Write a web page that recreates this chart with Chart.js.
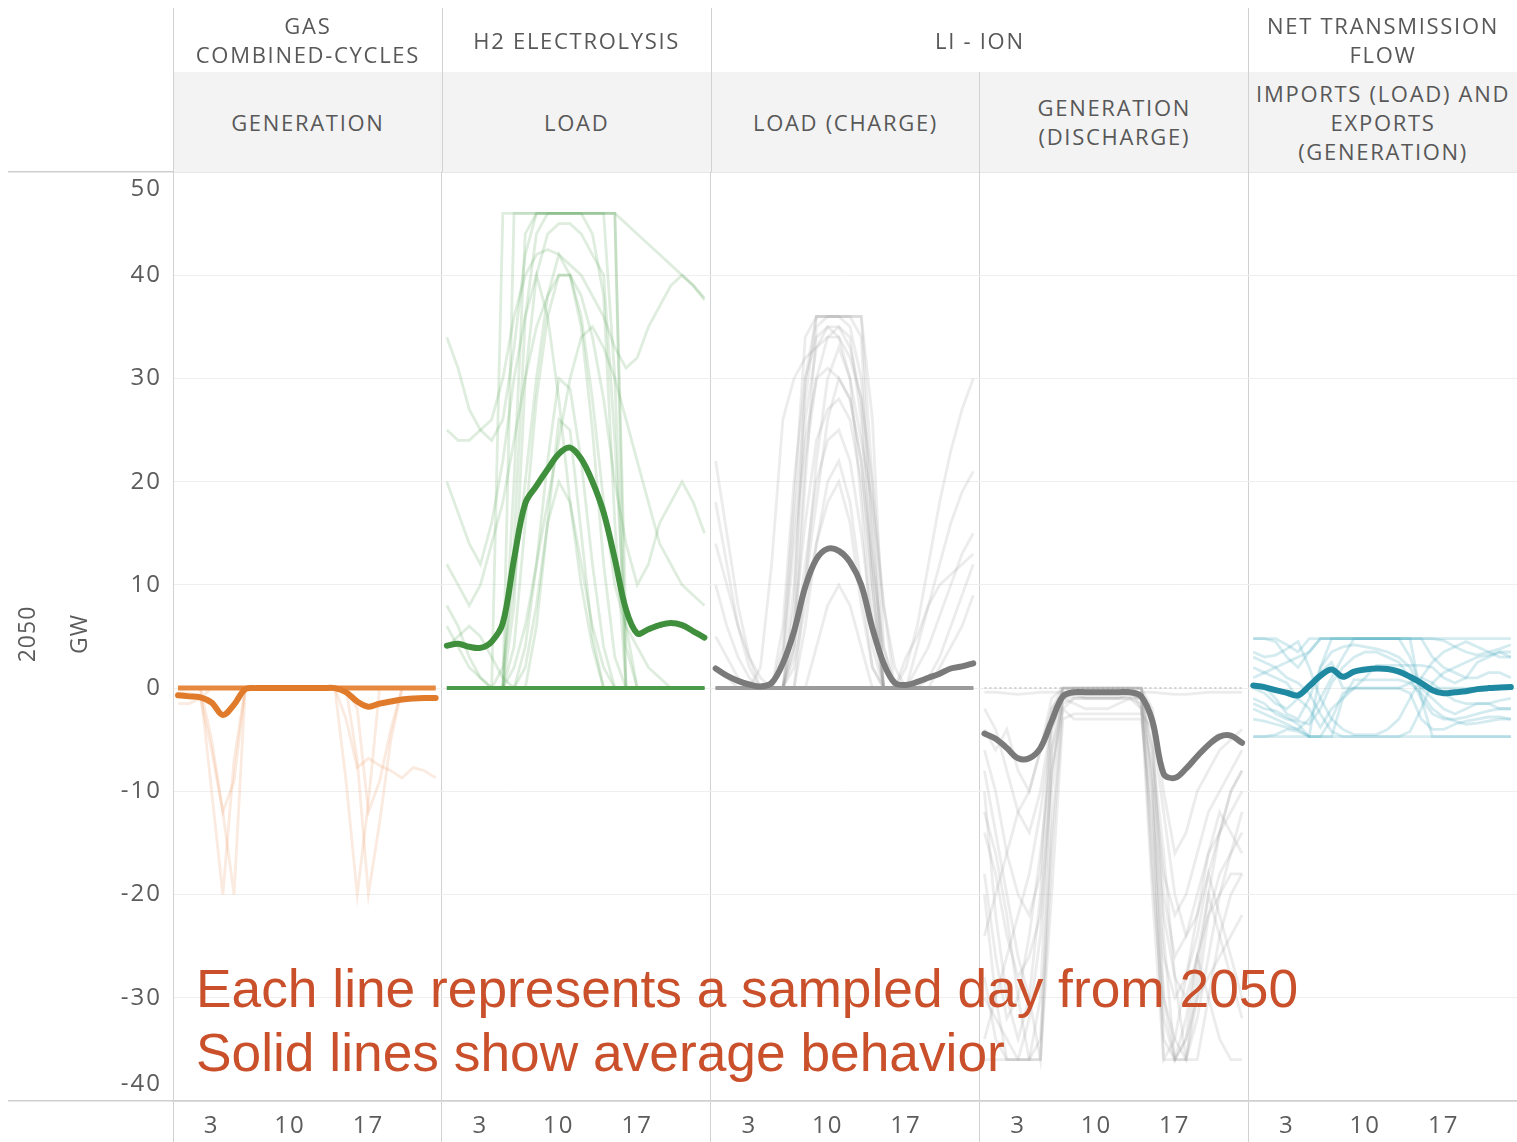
<!DOCTYPE html>
<html>
<head>
<meta charset="utf-8">
<title>2050 sampled-day dispatch profiles</title>
<script src="https://cdn.jsdelivr.net/npm/chart.js@4.4.1/dist/chart.umd.min.js"></script>
<style>
  html, body { margin: 0; padding: 0; background: #ffffff; }
  #wrap { position: relative; width: 1517px; height: 1142px; overflow: hidden; }
  #chart { position: absolute; left: 0; top: 0; }
  .hcell {
    position: absolute; box-sizing: border-box;
    display: flex; align-items: center; justify-content: center;
    text-align: center; white-space: pre; overflow: visible;
    font-family: "Open Sans", sans-serif; font-size: 22px; letter-spacing: 1.7px;
    line-height: 29px; color: #585858;
    border-left: 1px solid #d2d2d2;
  }
  .hcell.measure { background: #f3f3f3; }
  .note {
    position: absolute; left: 196px; top: 957px;
    font-family: "Liberation Sans", Arial, sans-serif; font-size: 53.3px;
    line-height: 64px; color: #c9502a; white-space: nowrap;
  }
</style>
</head>
<body>
<div id="wrap">
  <canvas id="chart" width="1517" height="1142"></canvas>
  <div id="header"></div>
  <div class="note">Each line represents a sampled day from 2050<br>Solid lines show average behavior</div>
</div>
<script>
// ---- hours of the day and axis ticks ----
const HOURS = [0,1,2,3,4,5,6,7,8,9,10,11,12,13,14,15,16,17,18,19,20,21,22,23];
const TICK_HOURS = [3, 10, 17];
const Y_TICKS = [-40, -30, -20, -10, 0, 10, 20, 30, 40, 50];

// ---- header labels ----
const GROUP_LABELS = [['GAS', 'COMBINED-CYCLES'], ['H2 ELECTROLYSIS'], ['LI - ION'], ['NET TRANSMISSION', 'FLOW']];
const GROUP_SPANS = [1, 1, 2, 1];
const MEASURE_LABELS = [['GENERATION'], ['LOAD'], ['LOAD (CHARGE)'], ['GENERATION', '(DISCHARGE)'], ['IMPORTS (LOAD) AND', 'EXPORTS', '(GENERATION)']];

// ---- gas combined-cycles generation (GW) ----
const gasAvg = [-0.7,-0.8,-0.9,-1.4,-2.6,-1.6,-0.1,0,0,0,0,0,0,0,0,-0.4,-1.3,-1.8,-1.5,-1.3,-1.1,-1.0,-0.95,-0.95];
const gasIdle = [0,0,0,0,0,0,0,0,0,0,0,0,0,0,0,0,0,0,0,0,0,0,0,0];
const gasDays = [
  [0,0,0,-10,-20,-7,0,0,0,0,0,0,0,0,0,0,0,0,0,0,0,0,0,0],
  [0,0,0,-5,-12,-20,0,0,0,0,0,0,0,0,0,0,0,0,0,0,0,0,0,0],
  [-0.5,-0.5,-1,-6,-12,-9,0,0,0,0,0,0,0,0,0,0,0,0,0,0,0,0,0,0],
  [0,0,0,0,0,0,0,0,0,0,0,0,0,0,0,-9,-20,-11,0,0,0,0,0,0],
  [0,0,0,0,0,0,0,0,0,0,0,0,0,0,0,0,-7,-20,-13,-5,0,0,0,0],
  [-1.5,-1.5,-1,0,0,0,0,0,0,0,0,0,0,0,0,-3,-7.7,-6.8,-7.5,-8,-8.7,-7.7,-8,-8.7],
  [0,0,0,0,0,0,0,0,0,0,0,0,0,0,0,0,-2,-12,-9,-4,0,0,0,0]
];

// ---- H2 electrolysis load (GW) ----
const h2Avg = [4.1,4.3,4.0,3.9,4.5,6.3,12.5,17.9,19.6,21.2,22.7,23.3,22.2,20.0,17.0,12.5,7.6,5.3,5.7,6.1,6.3,6.1,5.5,4.9];
const h2Idle = [0,0,0,0,0,0,0,0,0,0,0,0,0,0,0,0,0,0,0,0,0,0,0,0];
const h2Days = [
  [0,0,0,0,0,0,46,46,46,46,46,46,46,46,46,46,0,0,0,0,0,0,0,0],
  [0,0,0,0,0,46,46,46,46,46,46,46,46,46,46,46,6,0,0,0,0,0,0,0],
  [0,0,0,0,0,0,20,44,46,46,46,46,46,46,46,30,0,0,0,0,0,0,0,0],
  [0,0,0,0,0,0,8,30,40,44,45,45,44,42,40,24,4,0,0,0,0,0,0,0],
  [34,31,27,25,24,26,33,42,46,46,46,46,46,46,46,46,45,44,43,42,41,40,39,37.6],
  [25,24,24,25,26,30,36,40,42,42.5,42,41,40,38,36,33,31,32,35,37,39,40,39,37.8],
  [0,0,0,0,0,0,0,4,12,22,30,29,22,12,4,0,0,0,0,0,0,0,0,0],
  [0,0,0,0,0,2,10,20,30,38,42,40,35,25,12,3,0,0,0,0,0,0,0,0],
  [8,6,3,1,0,0,2,6,12,18,24,30,34,35,33,30,26,22,18,14,12,10,9,8],
  [20,17,14,12,16,22,30,36,40,36,28,18,10,4,0,0,0,0,0,0,0,0,0,0],
  [12,10,8,10,14,18,24,30,35,38,40,40,38,34,28,20,14,10,12,16,18,20,18,15],
  [4,5,6,5,3,1,0,2,8,16,20,18,12,6,2,0,0,0,0,0,0,0,0,0],
  [0,0,0,0,0,0,0,0,6,16,26,25,15,5,0,0,0,0,0,0,0,0,0,0],
  [0,0,0,0,0,0,14,36,44,46,46,46,46,44,38,16,0,0,0,0,0,0,0,0],
  [6,4,2,1,0,0,4,16,28,36,40,40,36,28,18,10,6,4,2,1,0,0,0,0]
];

// ---- Li-ion load while charging (GW) ----
const chargeAvg = [1.9,1.2,0.7,0.35,0.15,0.5,2.4,5.5,9.8,12.5,13.5,13.3,12.2,10.0,5.8,2.4,0.5,0.3,0.6,1.0,1.4,1.9,2.1,2.4];
const chargeIdle = [0,0,0,0,0,0,0,0,0,0,0,0,0,0,0,0,0,0,0,0,0,0,0,0];
const chargeDays = [
  [0,0,0,0,0,0,0,8,30,36,36,36,36,36,20,0,0,0,0,0,0,0,0,0],
  [0,0,0,0,0,0,4,18,34,36,36,36,36,34,14,2,0,0,0,0,0,0,0,0],
  [0,0,0,0,0,0,0,10,26,33,35,35,33,28,12,0,0,0,0,0,0,0,0,0],
  [0,0,0,0,0,0,2,14,24,30,31,30,28,22,10,0,0,0,0,0,0,0,0,0],
  [22,15,8,3,0,0,0,6,16,24,27,28,26,20,8,0,0,0,4,8,12,16,19,21],
  [10,6,3,1,0,0,0,4,12,20,24,25,22,15,6,0,0,2,6,12,18,23,27,30],
  [5,3,1,0,0,0,0,0,6,14,20,22,18,10,2,0,0,0,2,4,7,10,13,15],
  [18,12,6,2,0,0,0,0,0,4,8,10,8,4,0,0,0,0,0,0,2,4,6,9],
  [0,0,0,0,0,0,6,20,30,34,35,34,30,24,18,8,2,0,0,0,0,0,0,0],
  [0,0,0,0,2,12,26,30,32,33,34,34,32,28,20,8,0,0,0,0,0,0,0,0],
  [0,0,0,0,0,0,0,4,20,35,36,36,35,30,16,0,0,0,0,0,0,0,0,0],
  [0,0,0,0,0,0,0,0,10,22,30,33,30,18,4,0,0,0,0,0,0,0,0,0],
  [2,1,0,0,0,0,0,2,8,14,18,20,16,8,2,0,0,3,5,8,10,11,12,13],
  [0,0,0,0,0,0,0,6,22,30,34,35,34,26,10,0,0,0,0,0,0,0,0,0],
  [14,10,6,3,1,0,0,3,10,18,26,30,28,22,12,4,0,0,0,1,3,6,9,12],
  [0,0,0,0,0,0,3,16,28,36,36,36,36,36,26,4,0,0,0,0,0,0,0,0]
];

// ---- Li-ion generation while discharging (GW) ----
const dischargeAvg = [-4.4,-4.9,-5.8,-6.8,-6.8,-5.8,-3.2,-0.8,-0.4,-0.4,-0.4,-0.4,-0.4,-0.4,-0.8,-3.2,-8.3,-8.7,-7.8,-6.6,-5.5,-4.7,-4.6,-5.3];
const dischargeIdle = [0,0,0,0,0,0,0,0,0,0,0,0,0,0,0,0,0,0,0,0,0,0,0,0];
const dischargeDays = [
  [-20,-30,-36,-36,-36,-36,-10,0,0,0,0,0,0,0,0,-8,-30,-36,-36,-28,-20,-14,-10,-8],
  [-10,-22,-30,-34,-30,-20,-4,0,0,0,0,0,0,0,-2,-14,-30,-34,-36,-30,-22,-18,-16,-12],
  [-6,-10,-16,-20,-22,-18,-2,0,0,0,0,0,0,0,0,-6,-20,-26,-24,-20,-16,-14,-12,-10],
  [-30,-32,-34,-36,-36,-34,-14,-1,0,0,0,0,0,0,0,-10,-36,-36,-34,-26,-20,-24,-28,-32],
  [-2,-4,-8,-12,-14,-10,-3,-1,-1.5,-2,-2,-2,-1.5,-1,-2,-8,-18,-22,-20,-16,-12,-10,-8,-6],
  [-14,-18,-24,-28,-26,-22,-8,-2,-3,-3,-3,-3,-3,-3,-3,-12,-26,-30,-28,-24,-18,-22,-26,-30],
  [-36,-36,-36,-36,-36,-30,-6,0,0,0,0,0,0,0,0,-4,-24,-36,-34,-30,-28,-26,-24,-22],
  [-4,-6,-4,-8,-10,-6,-1,0,0,0,0,0,0,0,0,-2,-10,-16,-14,-10,-8,-6,-5,-4],
  [-24,-20,-16,-12,-10,-6,-2,-0.5,-0.5,-1,-1,-1,-1,-0.5,-1,-16,-34,-36,-32,-26,-22,-20,-18,-18],
  [-8,-14,-20,-26,-30,-36,-20,-3,-2.5,-2.5,-2.5,-2.5,-2.5,-2.5,-2.5,-4,-12,-20,-24,-22,-18,-14,-10,-8],
  [-0.4,-0.4,-0.5,-0.6,-0.5,-0.4,-0.4,-0.4,-0.4,-0.4,-0.4,-0.4,-0.4,-0.4,-0.4,-0.4,-0.5,-0.6,-0.6,-0.5,-0.4,-0.4,-0.4,-0.4],
  [-18,-26,-32,-30,-24,-16,-6,-1.5,-1,-1,-1,-1,-1,-1,-1.5,-20,-36,-34,-28,-22,-16,-12,-14,-16],
  [-28,-34,-36,-36,-32,-24,-8,-1,-0.5,-0.5,-0.5,-0.5,-0.5,-0.5,-1,-18,-32,-36,-36,-32,-26,-20,-16,-14],
  [-12,-16,-22,-30,-36,-36,-16,-2,-1,-1,-1,-1,-1,-1,-1,-6,-16,-28,-36,-36,-30,-24,-20,-18],
  [-34,-30,-26,-22,-18,-12,-4,-1,-0.8,-0.8,-0.8,-0.8,-0.8,-0.8,-1,-10,-22,-28,-30,-26,-30,-34,-36,-36]
];

// ---- net transmission flow: imports (+) and exports (-) (GW) ----
const flowAvg = [0.25,0.1,-0.2,-0.45,-0.7,0.2,1.2,1.8,1.1,1.6,1.8,1.9,1.85,1.6,1.1,0.5,-0.2,-0.5,-0.4,-0.3,-0.1,0.0,0.05,0.1];
const flowDays = [
  [-4.7,-4.7,-4.7,-4.7,-4.7,-4.7,2,4.8,4.8,4.8,4.8,4.8,4.8,4.8,4.8,-1,-4.7,-4.7,-4.7,-4.7,-4.7,-4.7,-4.7,-4.7],
  [4.8,4.8,4.5,3,2,3.5,4.8,4.8,4.8,4.8,4.8,4.8,4.8,4.8,4.8,4.8,4.8,4.8,4.8,4.8,4.8,4.8,4.8,4.8],
  [-4.7,-4.7,-4.5,-4,-4.2,-4.7,-4.7,-4.7,-4.7,-4.7,-4.7,-4.7,-4.7,-4.7,-4.7,-4.7,-4.7,-4.7,-4.7,-4.7,-4.7,-4.7,-4.7,-4.7],
  [0.2,0.1,-1,-2.5,-3,-1,2,3.5,4,4.2,4,3.8,3.5,3,2,0,0,0,0,0,0,0,0,0],
  [2,1.5,1,0.5,-1,-2,-3.8,-2,-1,0,1,2.2,2.2,2.2,2.2,2.2,2,1,0.5,1,2.5,3,3.5,3],
  [-2,-2.5,-3,-3.5,-4,-3,-1,1,3,4.8,4.8,4.8,4.8,4.8,3,0,-1,-2,-2.5,-2,-1.5,-1.5,-2,-2],
  [1,1.5,2,2.5,3,3.5,4.8,4.8,4.8,4.8,4.8,4.8,4.8,4.8,4.8,4.8,3,2,1.5,1,1,1.5,1.5,1],
  [-3,-3.2,-3.5,-3.8,-4,-4.7,-4.7,-3,-0.5,0,0,0,0,0,-0.5,-3,-4,-4,-3.5,-3.2,-3,-2.8,-2.8,-3],
  [3.5,3,3.2,3.8,4.5,2,-1,-3,-4,-4.5,-4.5,-4.5,-4,-3,-1,1,2.5,3.5,4,4.5,4,3.5,3,3],
  [0,-0.5,-1.5,-2,-1,0.5,1.5,2.5,0,0,0,0,0,0,0.5,1,0.5,-0.5,-1.2,-1.5,-1.5,-1.5,-1.2,-1],
  [-1,-1.5,-2.5,-3,-3.2,-3.5,-2,0.5,2,3,3.5,3.5,3,2.5,1,-1,-2.5,-3,-3,-2.8,-2.5,-2.2,-2,-2],
  [3,2.5,2,1,0.5,-0.5,-2.5,-4.2,-4.7,-4.7,-4.7,-4.7,-4.7,-4.7,-4.2,-2,0.5,1.5,2,2.5,3,3.2,3.5,3.5],
  [4.8,4.8,4.8,4.2,3.5,4.8,4.8,4.8,4.8,4.8,4.8,4.8,4.8,4.8,4.8,4.8,4.8,4.6,4,3.5,3.2,3.5,3.8,4.2],
  [-1.5,-2,-2.2,-2.8,-3.5,-4.7,-4.7,-4.7,-1,0.8,0.8,0.8,0.8,0.8,0.5,-0.5,-2,-2.8,-3.2,-3.5,-3.4,-3.2,-3,-3]
];

// ---- layout of the panels along one shared x axis ----
const PANEL_SPAN = 24;      // x units per panel
const HOUR_SHIFT = 0.45;    // inset of hour 0 from the panel edge
const PANEL_COUNT = 5;

const panels = [
  { avg: gasAvg, days: gasDays, idle: gasIdle,
    avgColor: '#e07b2c', dayColor: 'rgba(236,150,95,0.20)', idleColor: '#e7883f', idleWidth: 5 },
  { avg: h2Avg, days: h2Days, idle: h2Idle,
    avgColor: '#3f8f3c', dayColor: 'rgba(80,160,80,0.19)', idleColor: '#4b9a48', idleWidth: 4 },
  { avg: chargeAvg, days: chargeDays, idle: chargeIdle,
    avgColor: '#7a7a7a', dayColor: 'rgba(140,140,140,0.17)', idleColor: '#9b9b9b', idleWidth: 4 },
  { avg: dischargeAvg, days: dischargeDays, idle: dischargeIdle,
    avgColor: '#7a7a7a', dayColor: 'rgba(140,140,140,0.17)', idleColor: '#c2c2c2', idleWidth: 1.5, idleDash: [2, 3] },
  { avg: flowAvg, days: flowDays, idle: null,
    avgColor: '#1f89a1', dayColor: 'rgba(60,165,185,0.22)' }
];

function toPoints(panelIndex, values) {
  return values.map((v, i) => ({ x: panelIndex * PANEL_SPAN + HOURS[i] + HOUR_SHIFT, y: v }));
}

const datasets = [];
panels.forEach((p, pi) => {
  p.days.forEach(day => datasets.push({
    data: toPoints(pi, day), borderColor: p.dayColor, borderWidth: 2.8,
    tension: 0, order: 2
  }));
  if (p.idle) datasets.push({
    data: toPoints(pi, p.idle), borderColor: p.idleColor, borderWidth: p.idleWidth,
    borderDash: p.idleDash || [], tension: 0, order: 1
  });
  datasets.push({
    data: toPoints(pi, p.avg), borderColor: p.avgColor, borderWidth: 6,
    tension: 0.35, borderCapStyle: 'round', borderJoinStyle: 'round', order: 0
  });
});

// x ticks: panel separators plus the labelled hours in each panel
const X_TICKS = [];
for (let p = 0; p <= PANEL_COUNT; p++) {
  X_TICKS.push(p * PANEL_SPAN);
  if (p < PANEL_COUNT) TICK_HOURS.forEach(h => X_TICKS.push(p * PANEL_SPAN + h + HOUR_SHIFT));
}
const isSeparator = v => Math.abs(v % PANEL_SPAN) < 1e-6;

const GRID_EDGE = '#cfcfcf';
const GRID_INNER = '#efefef';
const CLEAR = 'rgba(0,0,0,0)';

// y tick labels and the rotated axis titles
const axisText = {
  id: 'axisText',
  beforeDraw(chart) { chart.ctx.letterSpacing = '2px'; },
  afterDraw(chart) {
    const { ctx, chartArea, scales: { y } } = chart;
    ctx.save();
    ctx.letterSpacing = '2px';
    ctx.font = '24px "Open Sans"';
    ctx.fillStyle = '#5c5c5c';
    ctx.textAlign = 'right';
    ctx.textBaseline = 'middle';
    y.ticks.forEach(t => {
      let py = y.getPixelForValue(t.value);
      py = Math.min(Math.max(py, chartArea.top + 17), chartArea.bottom - 17);
      ctx.fillText(String(t.value), chartArea.left - 11, py);
    });
    ctx.font = '23px "Open Sans"';
    ctx.letterSpacing = '1px';
    ctx.textAlign = 'center';
    [['2050', 28], ['GW', 80]].forEach(([txt, x]) => {
      ctx.save();
      ctx.translate(x, 634);
      ctx.rotate(-Math.PI / 2);
      ctx.fillText(txt, 0, 0);
      ctx.restore();
    });
    ctx.restore();
  }
};

const chart = new Chart(document.getElementById('chart'), {
  type: 'line',
  data: { datasets },
  plugins: [axisText],
  options: {
    responsive: false,
    animation: false,
    events: [],
    layout: { padding: { top: 172, left: 0, right: 0, bottom: 0 } },
    elements: { point: { radius: 0 } },
    plugins: { legend: { display: false }, tooltip: { enabled: false } },
    scales: {
      x: {
        type: 'linear', min: 0, max: PANEL_COUNT * PANEL_SPAN,
        afterBuildTicks: s => { s.ticks = X_TICKS.map(v => ({ value: v })); },
        afterFit: s => { s.height = 41; },
        ticks: {
          autoSkip: false, maxRotation: 0, padding: -30,
          color: '#5c5c5c', font: { family: 'Open Sans', size: 24 },
          callback: v => isSeparator(v) ? '' : String(Math.round(v - HOUR_SHIFT) % PANEL_SPAN)
        },
        grid: {
          color: c => (isSeparator(c.tick.value) && c.tick.value > 0 && c.tick.value < PANEL_COUNT * PANEL_SPAN) ? '#d2d2d2' : CLEAR,
          tickColor: c => (isSeparator(c.tick.value) && c.tick.value < PANEL_COUNT * PANEL_SPAN) ? '#d2d2d2' : CLEAR,
          tickLength: 41, lineWidth: 1
        },
        border: { display: true, color: GRID_EDGE, width: 1.5 }
      },
      y: {
        type: 'linear', min: -40, max: 50,
        afterBuildTicks: s => { s.ticks = Y_TICKS.map(v => ({ value: v })); },
        afterFit: s => { s.width = 173; },
        ticks: { display: false },
        grid: {
          color: c => (c.tick.value === 50 || c.tick.value === -40) ? GRID_EDGE : GRID_INNER,
          lineWidth: c => (c.tick.value === 50 || c.tick.value === -40) ? 1.5 : 1,
          tickColor: c => (c.tick.value === 50 || c.tick.value === -40) ? GRID_EDGE : CLEAR,
          tickLength: 165
        },
        border: { display: true, color: '#d2d2d2', width: 1 }
      }
    }
  }
});

// header rows, aligned to the panel edges of the x scale
(function buildHeader() {
  const host = document.getElementById('header');
  const xs = chart.scales.x;
  const edge = i => xs.getPixelForValue(i * PANEL_SPAN);
  const addCell = (from, to, lines, top, height, cls) => {
    const d = document.createElement('div');
    d.className = 'hcell' + (cls ? ' ' + cls : '');
    d.style.left = edge(from) + 'px';
    d.style.width = (edge(to) - edge(from)) + 'px';
    d.style.top = top + 'px';
    d.style.height = height + 'px';
    d.textContent = lines.join('\n');
    host.appendChild(d);
  };
  let start = 0;
  GROUP_LABELS.forEach((lines, g) => {
    addCell(start, start + GROUP_SPANS[g], lines, 8, 64, '');
    start += GROUP_SPANS[g];
  });
  MEASURE_LABELS.forEach((lines, m) => addCell(m, m + 1, lines, 72, 100, 'measure'));
})();
</script>
</body>
</html>
